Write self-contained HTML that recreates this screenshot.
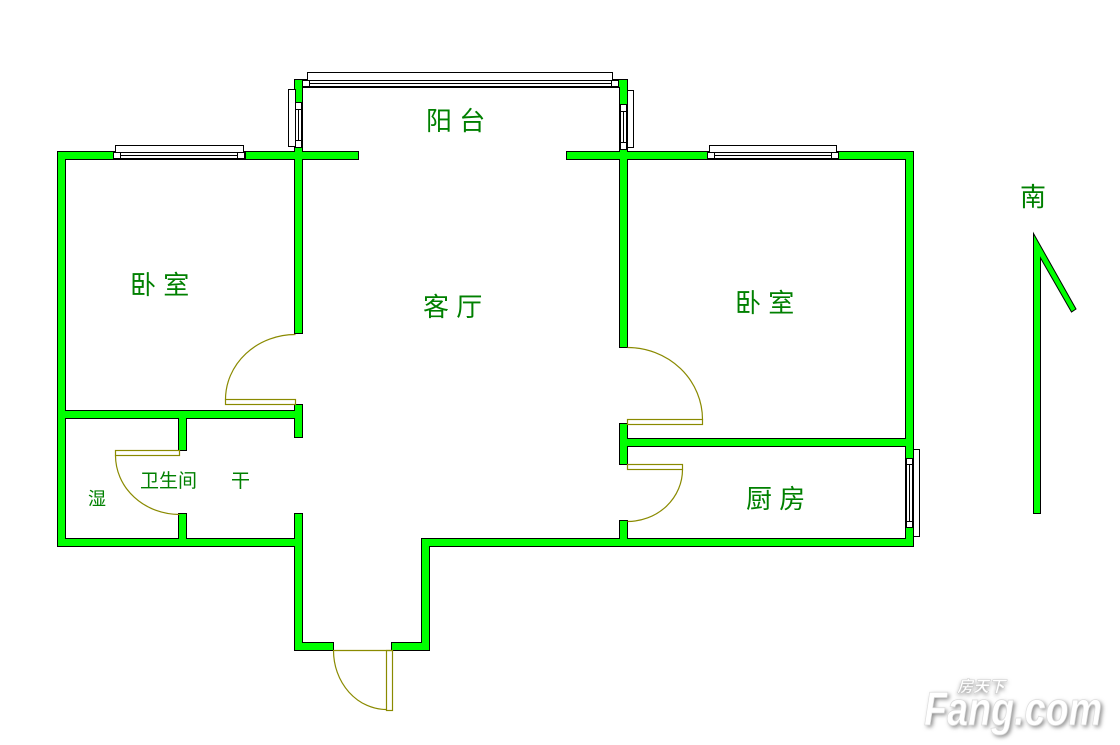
<!DOCTYPE html>
<html><head><meta charset="utf-8"><style>
html,body{margin:0;padding:0;background:#fff;}
svg{display:block}
.t{font-family:"Liberation Sans","Noto Sans CJK SC",sans-serif;fill:#008000;}
</style></head><body>
<svg width="1120" height="745" viewBox="0 0 1120 745" xmlns="http://www.w3.org/2000/svg">
<defs><filter id="sh" x="-10%" y="-30%" width="130%" height="160%"><feGaussianBlur stdDeviation="2"/></filter></defs>
<g fill="none" stroke-linecap="square">
<g stroke="#000" stroke-width="9">
<path d="M61.5 155.5V542.5H298.5M61.5 155.5H354.5M570.5 155.5H909.5V542.5H425.5V646.5H395.5M329.5 646.5H298.5V517.5M298.5 83.5H623.5V343.5M298.5 83.5V329.5M298.5 408.5V433.5M61.5 414.5H298.5M182.5 414.5V446.5M182.5 517.5V542.5M623.5 427.5V460.5M623.5 524.5V542.5M623.5 442.5H909.5"/>
</g>
<g stroke="#00ff00" stroke-width="7">
<path d="M61.5 155.5V542.5H298.5M61.5 155.5H354.5M570.5 155.5H909.5V542.5H425.5V646.5H395.5M329.5 646.5H298.5V517.5M298.5 83.5H623.5V343.5M298.5 83.5V329.5M298.5 408.5V433.5M61.5 414.5H298.5M182.5 414.5V446.5M182.5 517.5V542.5M623.5 427.5V460.5M623.5 524.5V542.5M623.5 442.5H909.5"/>
</g>
</g>
<g stroke="#000" stroke-width="1" fill="#fff">
<rect x="115.5" y="145.5" width="128" height="7"/>
<rect x="113.5" y="152.5" width="132" height="6"/>
<line x1="113" y1="155.5" x2="245" y2="155.5"/>
<rect x="113.5" y="152.5" width="7" height="6"/><rect x="237.5" y="152.5" width="7" height="6"/>
<rect x="709.5" y="145.5" width="127" height="7"/>
<rect x="707.5" y="152.5" width="131" height="6"/>
<line x1="707" y1="155.5" x2="838" y2="155.5"/>
<rect x="707.5" y="152.5" width="7" height="6"/><rect x="831.5" y="152.5" width="7" height="6"/>
<rect x="307.5" y="72.5" width="305" height="8"/>
<rect x="302.5" y="80.5" width="316" height="6"/>
<line x1="302" y1="83.5" x2="618" y2="83.5"/>
<rect x="302.5" y="80.5" width="7" height="6"/><rect x="611.5" y="80.5" width="7" height="6"/>
<rect x="288.5" y="89.5" width="7" height="57"/>
<rect x="295.5" y="102.5" width="6" height="45"/>
<line x1="298.5" y1="102" x2="298.5" y2="148"/>
<rect x="295.5" y="102.5" width="6" height="7"/><rect x="295.5" y="140.5" width="6" height="7"/>
<rect x="627.5" y="90.5" width="6" height="57"/>
<rect x="620.5" y="104.5" width="6" height="44"/>
<line x1="623.5" y1="104" x2="623.5" y2="149"/>
<rect x="620.5" y="104.5" width="6" height="7"/><rect x="620.5" y="142.5" width="6" height="7"/>
<rect x="913.5" y="449.5" width="6" height="87"/>
<rect x="906.5" y="458.5" width="6" height="69"/>
<line x1="909.5" y1="458" x2="909.5" y2="528"/>
<rect x="906.5" y="458.5" width="6" height="6"/><rect x="906.5" y="521.5" width="6" height="6"/>
</g>
<g stroke="#8a8a00" stroke-width="1.2" fill="none">
<rect x="225.5" y="399.5" width="70" height="5"/>
<path d="M225.5 399.5A70 65 0 0 1 295.5 334.5"/>
<rect x="115.5" y="450.5" width="64" height="5"/>
<path d="M115.5 455.5A64 59 0 0 0 179.5 514.5"/>
<rect x="627.5" y="419.5" width="75" height="5"/>
<path d="M702.5 419.5A75 72 0 0 0 627.5 347.5"/>
<rect x="627.5" y="464.5" width="55" height="5"/>
<path d="M682.5 469.5A55 52 0 0 1 627.5 521.5"/>
<rect x="386.5" y="650.5" width="6" height="60"/>
<path d="M333.5 650.5A53 59 0 0 0 386.5 709.5"/>
<line x1="333" y1="650.5" x2="392" y2="650.5"/>
</g>
<polygon points="1033.5,233.5 1076,309 1071.5,312 1040.5,258 1040.5,513.5 1033.5,513.5" fill="#00ff00" stroke="#000" stroke-width="1"/>
<g class="t">
<text x="426" y="130" font-size="26">阳 台</text>
<text x="130" y="294" font-size="26">卧 室</text>
<text x="423" y="316" font-size="26">客 厅</text>
<text x="735" y="312" font-size="26">卧 室</text>
<text x="746" y="508" font-size="26">厨 房</text>
<text x="140" y="487" font-size="19">卫生间</text>
<text x="231" y="487" font-size="19">干</text>
<text x="88" y="505" font-size="18">湿</text>
<text x="1020" y="206" font-size="26">南</text>
</g>
<g font-family="Liberation Sans,sans-serif" font-weight="bold" font-style="italic">
<text x="924" y="725" font-size="47" fill="#888" filter="url(#sh)" transform="translate(2,2)" textLength="178" lengthAdjust="spacingAndGlyphs">Fang.com</text>
<text x="924" y="725" font-size="47" fill="#fff" stroke="#ddd" stroke-width="0.8" textLength="178" lengthAdjust="spacingAndGlyphs">Fang.com</text>
<text x="957" y="694" font-size="16" fill="#888" filter="url(#sh)" font-family="Noto Sans CJK SC,sans-serif">房天下</text>
<text x="957" y="692" font-size="16" fill="#fff" stroke="#ccc" stroke-width="0.5" font-family="Noto Sans CJK SC,sans-serif">房天下</text>
</g>
</svg>
</body></html>
